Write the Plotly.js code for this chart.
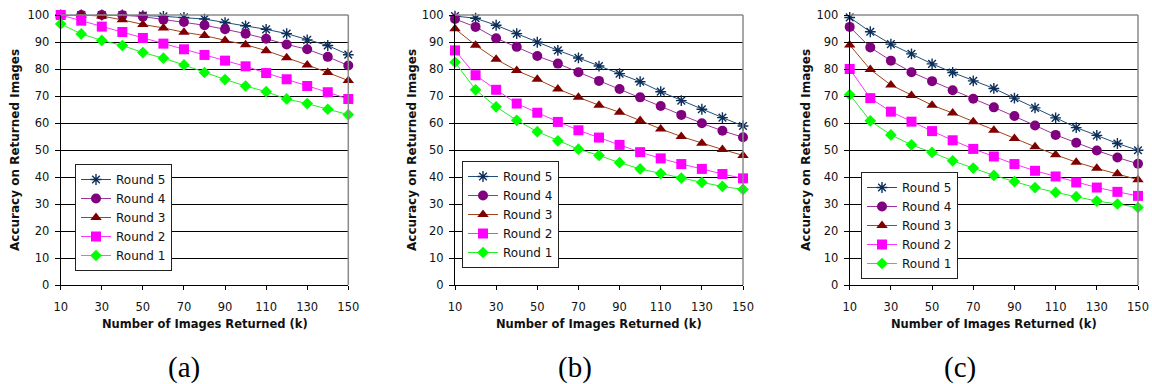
<!DOCTYPE html>
<html>
<head>
<meta charset="utf-8">
<script src="https://cdn.plot.ly/plotly-3.0.1.min.js"></script>
<style>
html, body { margin: 0; padding: 0; background: #fff; }
#chart { width: 1152px; height: 384px; }
</style>
</head>
<body>
<div id="chart"></div>
<script>
// ---- Data ----
const kValues = [10, 20, 30, 40, 50, 60, 70, 80, 90, 100, 110, 120, 130, 140, 150];
const xTickVals = [10, 30, 50, 70, 90, 110, 130, 150];
const yTickVals = [0, 10, 20, 30, 40, 50, 60, 70, 80, 90, 100];
const seriesNames = ["Round 5", "Round 4", "Round 3", "Round 2", "Round 1"];
const panelLabels = ["(a)", "(b)", "(c)"];
const xTitle = "Number of Images Returned (k)";
const yTitle = "Accuracy on Returned Images";

// panel (a)
const a_r5 = [100, 100, 100, 100, 99.8, 99.5, 99.1, 98.5, 97.2, 96, 94.7, 93.1, 90.8, 88.7, 85.3];
const a_r4 = [100, 100, 100, 99.9, 99.4, 98.3, 97.4, 96.2, 94.7, 93.1, 91.2, 89.1, 87.3, 84.5, 81.3];
const a_r3 = [100, 100, 99.6, 98.2, 96.5, 95.2, 93.6, 92.4, 90.6, 89, 86.8, 84.2, 81.5, 78.7, 75.7];
const a_r2 = [100, 97.9, 95.7, 93.7, 91.5, 89.4, 87.3, 85.2, 83.1, 81, 78.5, 76.2, 73.7, 71.4, 68.9];
const a_r1 = [96.7, 93, 90.6, 88.7, 86.1, 84, 81.5, 78.7, 76.1, 73.7, 71.6, 68.9, 67.2, 65.1, 63.1];

// panel (b)
const b_r5 = [99.6, 98.8, 96.2, 93.1, 89.9, 86.9, 84.1, 81.1, 78.3, 75.3, 71.6, 68.3, 65.1, 62, 58.9];
const b_r4 = [98.5, 95.6, 91.4, 88.2, 84.8, 82, 78.8, 75.6, 72.6, 69.5, 66.3, 63, 59.9, 57.1, 54.7];
const b_r3 = [94.9, 88.8, 83.6, 79.4, 76.2, 72.6, 69.5, 66.6, 64, 60.9, 57.8, 55, 52.5, 50.2, 48];
const b_r2 = [86.9, 77.7, 72.3, 67.2, 63.8, 60.4, 57.3, 54.6, 51.9, 49.2, 46.9, 44.8, 43, 41.1, 39.5];
const b_r1 = [82.5, 72.3, 66, 61, 56.8, 53.4, 50.3, 48, 45.3, 43, 41.3, 39.6, 38, 36.5, 35.4];

// panel (c)
const c_r5 = [99.1, 93.8, 89.2, 85.6, 81.9, 78.7, 75.6, 72.8, 69.2, 65.6, 61.9, 58.3, 55.4, 52.4, 49.9];
const c_r4 = [95.6, 88, 83.1, 78.8, 75.5, 72.1, 69, 65.8, 62.6, 59.1, 55.6, 52.7, 49.8, 47.2, 44.9];
const c_r3 = [88.9, 79.8, 74.1, 70.2, 66.6, 63.7, 60.5, 57.3, 54.3, 51.2, 48.2, 45.5, 43.2, 41.2, 39];
const c_r2 = [80, 69.2, 64.2, 60.5, 57, 53.6, 50.4, 47.6, 44.8, 42.3, 40.2, 38, 36.1, 34.5, 33];
const c_r1 = [70.5, 60.8, 55.6, 51.9, 49.1, 46, 43.3, 40.6, 38.3, 36.1, 34.3, 32.7, 31.1, 30, 28.7];

const panels = [
  [a_r5, a_r4, a_r3, a_r2, a_r1],
  [b_r5, b_r4, b_r3, b_r2, b_r1],
  [c_r5, c_r4, c_r3, c_r2, c_r1]
];

// ---- Styles ----
const styles = [
  { line: "#1F4E79", marker: { symbol: "asterisk-open", size: 9, color: "#0B2F5A", line: { color: "#0B2F5A", width: 1.4 } } },
  { line: "#993399", marker: { symbol: "circle", size: 10, color: "#800080" } },
  { line: "#A0441A", marker: { symbol: "triangle-up", size: 10, color: "#800000" } },
  { line: "#FF33FF", marker: { symbol: "square", size: 10, color: "#FF00FF" } },
  { line: "#22EE22", marker: { symbol: "diamond", size: 9, color: "#00FF00" } }
];

const W = 1152, H = 384;
const plotTop = 15, plotBottom = 285;
const xDomainsPx = [[60.7, 348.3], [455, 743], [849.7, 1138]];
const legendPos = [[75, 164], [462, 161], [861, 172]];
const yTitleX = [15, 412, 806];

const fontFam = "DejaVu Sans, Arial, sans-serif";
const traces = [];
const layout = {
  width: W, height: H,
  margin: { l: 0, r: 0, t: 0, b: 0 },
  paper_bgcolor: "#fff", plot_bgcolor: "#fff",
  font: { family: fontFam, size: 11, color: "#111" },
  annotations: [], shapes: []
};

panels.forEach((series, p) => {
  const sfx = p === 0 ? "" : String(p + 1);
  const legendName = "legend" + sfx;
  series.forEach((vals, i) => {
    traces.push({
      x: kValues, y: vals, name: seriesNames[i],
      type: "scatter", mode: "lines+markers",
      xaxis: "x" + sfx, yaxis: "y" + sfx,
      legend: legendName,
      cliponaxis: false,
      line: { color: styles[i].line, width: 1 },
      marker: styles[i].marker
    });
  });
  const xd = xDomainsPx[p];
  layout["xaxis" + sfx] = {
    domain: [xd[0] / W, xd[1] / W],
    anchor: "y" + sfx,
    range: [10, 150], tickvals: xTickVals,
    ticks: "outside", ticklen: 4, tickcolor: "#000",
    ticklabelstandoff: 7,
    showline: true, linecolor: "#000", linewidth: 1,
    showgrid: false, zeroline: false,
    tickfont: { family: fontFam, size: 11.5, color: "#111" },
    fixedrange: true
  };
  layout["yaxis" + sfx] = {
    domain: [(H - plotBottom) / H, (H - plotTop) / H],
    anchor: "x" + sfx,
    range: [0, 100], tickvals: yTickVals,
    ticks: "outside", ticklen: 5, tickcolor: "#000",
    ticklabelstandoff: 3,
    showline: true, linecolor: "#000", linewidth: 1,
    showgrid: true, gridcolor: "#000", gridwidth: 1,
    zeroline: false,
    tickfont: { family: fontFam, size: 11.5, color: "#111" },
    fixedrange: true
  };
  // gray frame on top and right
  layout.shapes.push({ type: "line", xref: "x" + sfx + " domain", yref: "y" + sfx + " domain",
    x0: 0, x1: 1, y0: 1, y1: 1, line: { color: "#8a8a8a", width: 1.5 } });
  layout.shapes.push({ type: "line", xref: "x" + sfx + " domain", yref: "y" + sfx + " domain",
    x0: 1, x1: 1, y0: 0, y1: 1, line: { color: "#8a8a8a", width: 1.5 } });

  layout[legendName] = {
    x: legendPos[p][0] / W, y: (H - legendPos[p][1]) / H,
    xanchor: "left", yanchor: "top",
    bgcolor: "#fff", bordercolor: "#222", borderwidth: 1,
    font: { family: fontFam, size: 12, color: "#111" },
    tracegroupgap: 0, itemwidth: 30
  };

  // axis titles
  layout.annotations.push({
    xref: "paper", yref: "paper",
    x: (xd[0] + xd[1]) / 2 / W, y: (H - 324) / H,
    xanchor: "center", yanchor: "middle", showarrow: false,
    text: xTitle,
    font: { family: fontFam, size: 11.5, weight: "bold", color: "#111" }
  });
  layout.annotations.push({
    xref: "paper", yref: "paper",
    x: yTitleX[p] / W, y: (H - 150) / H,
    xanchor: "center", yanchor: "middle", showarrow: false,
    textangle: -90,
    text: yTitle,
    font: { family: fontFam, size: 12, weight: "bold", color: "#111" }
  });
  layout.annotations.push({
    xref: "paper", yref: "paper",
    x: [184, 575, 960][p] / W, y: (H - 367) / H,
    xanchor: "center", yanchor: "middle", showarrow: false,
    text: panelLabels[p],
    font: { family: "Liberation Serif, Times New Roman, serif", size: 29, color: "#000" }
  });
});

Plotly.newPlot("chart", traces, layout, { displayModeBar: false, staticPlot: true });
</script>
</body>
</html>
